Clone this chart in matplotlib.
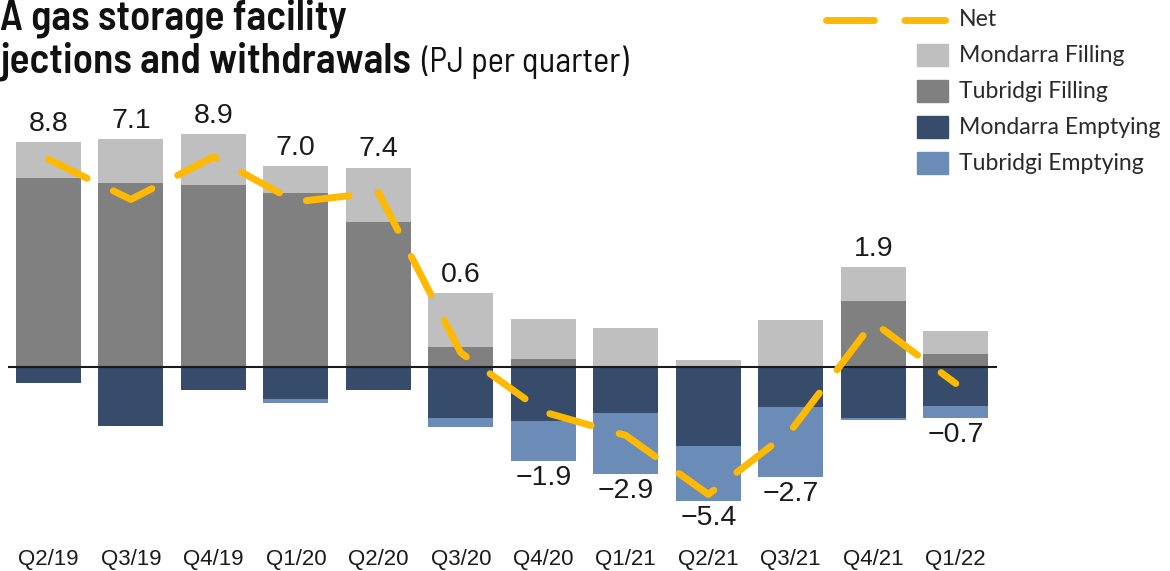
import os
import matplotlib
matplotlib.use("Agg")
import numpy as np
import matplotlib.pyplot as plt
from matplotlib.lines import Line2D
from matplotlib.patches import Rectangle
from matplotlib import font_manager
from matplotlib.font_manager import FontProperties

# Data (PJ per quarter)
quarters = ["Q2/19", "Q3/19", "Q4/19", "Q1/20", "Q2/20", "Q3/20",
            "Q4/20", "Q1/21", "Q2/21", "Q3/21", "Q4/21", "Q1/22"]
tubridgi_fill = [8.0, 7.78, 7.71, 7.39, 6.16, 0.85, 0.36, 0.0, 0.0, 0.0, 2.78, 0.57]
mondarra_fill = [1.55, 1.89, 2.17, 1.14, 2.29, 2.29, 1.69, 1.65, 0.28, 2.0, 1.44, 0.96]
mondarra_empty = [0.69, 2.5, 0.97, 1.37, 0.97, 2.14, 2.29, 1.95, 3.36, 1.69, 2.16, 1.67]
tubridgi_empty = [0.0, 0.0, 0.0, 0.14, 0.0, 0.40, 1.69, 2.57, 2.32, 2.97, 0.1, 0.48]
net = [8.8, 7.1, 8.9, 7.0, 7.4, 0.6, -1.9, -2.9, -5.4, -2.7, 1.9, -0.7]

# Colours
c_mf = "#bfbfbf"
c_tf = "#808080"
c_me = "#374b6b"
c_te = "#6c8cb8"
c_net = "#ffb900"

W, H = 1170, 571
fig = plt.figure(figsize=(W / 100, H / 100), dpi=100)

def fx(px):
    return px / W

def fy(py):
    return 1 - py / H

# axes placed in pixel terms: left 8, right 997, top 100, bottom 520
ax = fig.add_axes([fx(8), fy(520), fx(997) - fx(8), (520 - 100) / H])

x = np.arange(len(quarters))
tf = np.array(tubridgi_fill)
mf = np.array(mondarra_fill)
me = np.array(mondarra_empty)
te = np.array(tubridgi_empty)
bw = 0.79

ax.bar(x, tf, bw, color=c_tf, label="Tubridgi Filling")
ax.bar(x, mf, bw, bottom=tf, color=c_mf, label="Mondarra Filling")
ax.bar(x, -me, bw, color=c_me, label="Mondarra Emptying")
ax.bar(x, -te, bw, bottom=-me, color=c_te, label="Tubridgi Emptying")

ax.axhline(0, color="#1a1a1a", lw=1.5, zorder=3)

ax.plot(x, net, color=c_net, lw=5, dashes=(6.2, 4.2),
        dash_capstyle="round", solid_capstyle="round", zorder=4)

lab_font = ["Liberation Sans", "DejaVu Sans"]
for i, v in enumerate(net):
    if v >= 0:
        ax.annotate(f"{v:.1f}", (x[i], tf[i] + mf[i]), xytext=(0, 8),
                    textcoords="offset points", ha="center", va="baseline",
                    fontsize=20.5, family=lab_font, color="#1a1a1a")
    else:
        ax.annotate(f"\u2212{abs(v):.1f}", (x[i], -(me[i] + te[i])), xytext=(0, -3),
                    textcoords="offset points", ha="center", va="top",
                    fontsize=20.5, family=lab_font, color="#1a1a1a")

ax.set_xlim(-0.49, 11.5)
ax.set_ylim(-(520 - 367) / 23.6, (367 - 100) / 23.6)
ax.set_xticks(x)
ax.set_xticklabels(quarters, fontsize=16, family=lab_font, color="#1a1a1a")
ax.tick_params(axis="x", length=0, pad=21)
ax.set_yticks([])
for s in ax.spines.values():
    s.set_visible(False)

# Title (cropped in the original): prefer a semi-condensed face if one is installed
cond_files = [f.fname for f in font_manager.fontManager.ttflist
              if "Condensed" in os.path.basename(f.fname)
              and "Extra" not in os.path.basename(f.fname)
              and "Italic" not in os.path.basename(f.fname)]

def pick(widths, weights):
    for wd in widths:
        for w in weights:
            for p in sorted(cond_files):
                b = os.path.basename(p)
                if wd in b and b.split("-")[-1].startswith(w):
                    if wd == "Condensed" and "SemiCondensed" in b:
                        continue
                    return p
    return None

bold_path = pick(["SemiCondensed", "Condensed"], ["SemiBold", "Medium", "Bold"])
reg_path = pick(["SemiCondensed", "Condensed"], ["Regular", "Medium"])
fp_bold = FontProperties(fname=bold_path) if bold_path else FontProperties(family="Roboto", weight="bold")
fp_reg = FontProperties(fname=reg_path) if reg_path else FontProperties(family="Roboto")

renderer = fig.canvas.get_renderer()

def fitted(xp, yp, s, fp, width_px):
    t = fig.text(fx(xp), fy(yp), s, fontproperties=fp, color="#111111",
                 va="baseline", ha="left")
    t.set_fontsize(20)
    w = t.get_window_extent(renderer).width
    t.set_fontsize(20 * width_px / w)
    return t

t1 = fitted(0, 30, "A gas storage facility", fp_bold, 346)
t2 = fig.text(fx(0), fy(72), "jections and withdrawals", fontproperties=fp_bold,
              color="#111111", va="baseline", ha="left")
t2.set_fontsize(t1.get_fontsize())
right = t2.get_window_extent(renderer).x1
t3 = fitted(right + 10, 72, "(PJ per quarter)", fp_reg, 208)

# Legend drawn in figure pixels
leg_font = ["Lato", "DejaVu Sans"]
fig.add_artist(Line2D([fx(826), fx(945)], [fy(20), fy(20)], color=c_net, lw=5,
                      dashes=(6.9, 4.4), dash_capstyle="round"))
fig.text(fx(959), fy(20), "Net", fontsize=16.6, family=leg_font, color="#2a2a2a",
         va="center", ha="left")
leg_items = [("Mondarra Filling", c_mf), ("Tubridgi Filling", c_tf),
             ("Mondarra Emptying", c_me), ("Tubridgi Emptying", c_te)]
for k, (name, col) in enumerate(leg_items):
    yc = 55 + 36 * k
    fig.add_artist(Rectangle((fx(917), fy(yc + 11)), 31 / W, 22 / H,
                             transform=fig.transFigure, color=col))
    fig.text(fx(959), fy(yc), name, fontsize=16.6, family=leg_font, color="#2a2a2a",
             va="center", ha="left")

fig.savefig("out.png", dpi=100)
